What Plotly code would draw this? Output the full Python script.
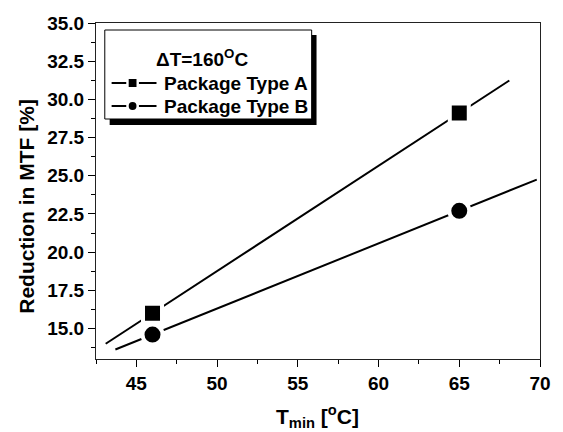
import numpy as np
import plotly.graph_objects as go

# Measured reduction in MTF at two minimum temperatures
t_min = [46, 65]
mtf_a = [16.0, 29.1]
mtf_b = [14.6, 22.7]

# Extent of each linear trend line
fit_span_a = [43.1, 68.1]
fit_span_b = [43.7, 69.8]

x_ticks = [45, 50, 55, 60, 65, 70]
y_ticks = [15.0, 17.5, 20.0, 22.5, 25.0, 27.5, 30.0, 32.5, 35.0]

series_names = ["Package Type A", "Package Type B"]
legend_title = "\u0394T=160<sup>O</sup>C"

FONT = "Liberation Sans, Arial, sans-serif"

# plot-area geometry in pixels (used to place the hand-built legend)
W, H = 563, 432
ML, MR, MT, MB = 96, 12, 23, 73
PW, PH = W - ML - MR, H - MT - MB


def px(x):
    return (x - ML) / PW


def py(y):
    return (H - MB - y) / PH


def trend(xs, ys, span):
    k, b = np.polyfit(xs, ys, 1)
    xx = np.array(span)
    return xx, k * xx + b


fig = go.Figure()

for ys, span, sym, size, name in [
    (mtf_a, fit_span_a, "square", 19, series_names[0]),
    (mtf_b, fit_span_b, "circle", 20, series_names[1]),
]:
    fx, fy = trend(t_min, ys, span)
    fig.add_trace(go.Scatter(x=fx, y=fy, mode="lines",
                             line=dict(color="black", width=2),
                             showlegend=False, hoverinfo="skip"))
    # white rim leaves a small gap between the line and the symbol
    fig.add_trace(go.Scatter(x=t_min, y=ys, mode="markers", name=name,
                             marker=dict(symbol=sym, size=size, color="black",
                                         line=dict(color="white", width=4)),
                             showlegend=False))

# ---- legend box with drop shadow ----
shapes = [
    dict(type="rect", xref="paper", yref="paper",
         x0=px(110), x1=px(322), y0=py(125), y1=py(35),
         fillcolor="black", line=dict(width=0)),
    dict(type="rect", xref="paper", yref="paper",
         x0=px(105), x1=px(317), y0=py(119), y1=py(30),
         fillcolor="white", line=dict(color="black", width=1)),
]
annotations = [
    dict(text="<b>" + legend_title + "</b>", xref="paper", yref="paper",
         x=px(205), y=py(58), xanchor="center", yanchor="middle",
         showarrow=False, font=dict(family=FONT, size=19, color="black")),
]
rows_y = [83, 106]
for row, name, kind in zip(rows_y, series_names, ["rect", "circle"]):
    # sample line segments either side of the symbol
    for x0, x1 in [(112, 127), (140, 158)]:
        shapes.append(dict(type="line", xref="paper", yref="paper",
                           x0=px(x0), x1=px(x1), y0=py(row), y1=py(row),
                           line=dict(color="black", width=2)))
    half = 4
    shapes.append(dict(type=kind, xref="paper", yref="paper",
                       x0=px(133.5 - half), x1=px(133.5 + half),
                       y0=py(row + half), y1=py(row - half),
                       fillcolor="black", line=dict(width=0)))
    annotations.append(dict(text="<b>" + name + "</b>", xref="paper", yref="paper",
                            x=px(164), y=py(row), xanchor="left", yanchor="middle",
                            showarrow=False,
                            font=dict(family=FONT, size=19, color="black")))

# ---- axis titles ----
annotations.append(dict(text="<b>Reduction in MTF [%]</b>", xref="paper", yref="paper",
                        x=px(24), y=py(206), xanchor="center", yanchor="middle",
                        textangle=-90, showarrow=False,
                        font=dict(family=FONT, size=21, color="black")))
annotations.append(dict(text="<b>T<sub>min</sub> [<sup>o</sup>C]</b>", xref="paper", yref="paper",
                        x=px(323), y=py(416), xanchor="center", yanchor="middle",
                        showarrow=False,
                        font=dict(family=FONT, size=21, color="black")))

axis_common = dict(
    ticks="outside", ticklen=7, tickwidth=1, tickcolor="black",
    showline=True, linecolor="#222", linewidth=1, mirror=True,
    showgrid=False, zeroline=False,
    tickfont=dict(family=FONT, size=19, color="black", weight="bold"),
)

fig.update_layout(
    width=W, height=H,
    margin=dict(l=ML, r=MR, t=MT, b=MB),
    paper_bgcolor="white", plot_bgcolor="white",
    font=dict(family=FONT, color="black"),
    showlegend=False,
    shapes=shapes,
    annotations=annotations,
    xaxis=dict(
        range=[42.5, 70], tickvals=x_ticks, ticktext=[str(v) for v in x_ticks],
        minor=dict(dtick=2.5, tick0=42.5, ticks="outside", ticklen=4,
                   tickcolor="black", showgrid=False),
        **axis_common,
    ),
    yaxis=dict(
        range=[13, 35], tickvals=y_ticks, ticktext=[f"{v:.1f}" for v in y_ticks],
        minor=dict(dtick=1.25, tick0=13.75, ticks="outside", ticklen=4,
                   tickcolor="black", showgrid=False),
        **axis_common,
    ),
)

fig.write_html("out.html")
